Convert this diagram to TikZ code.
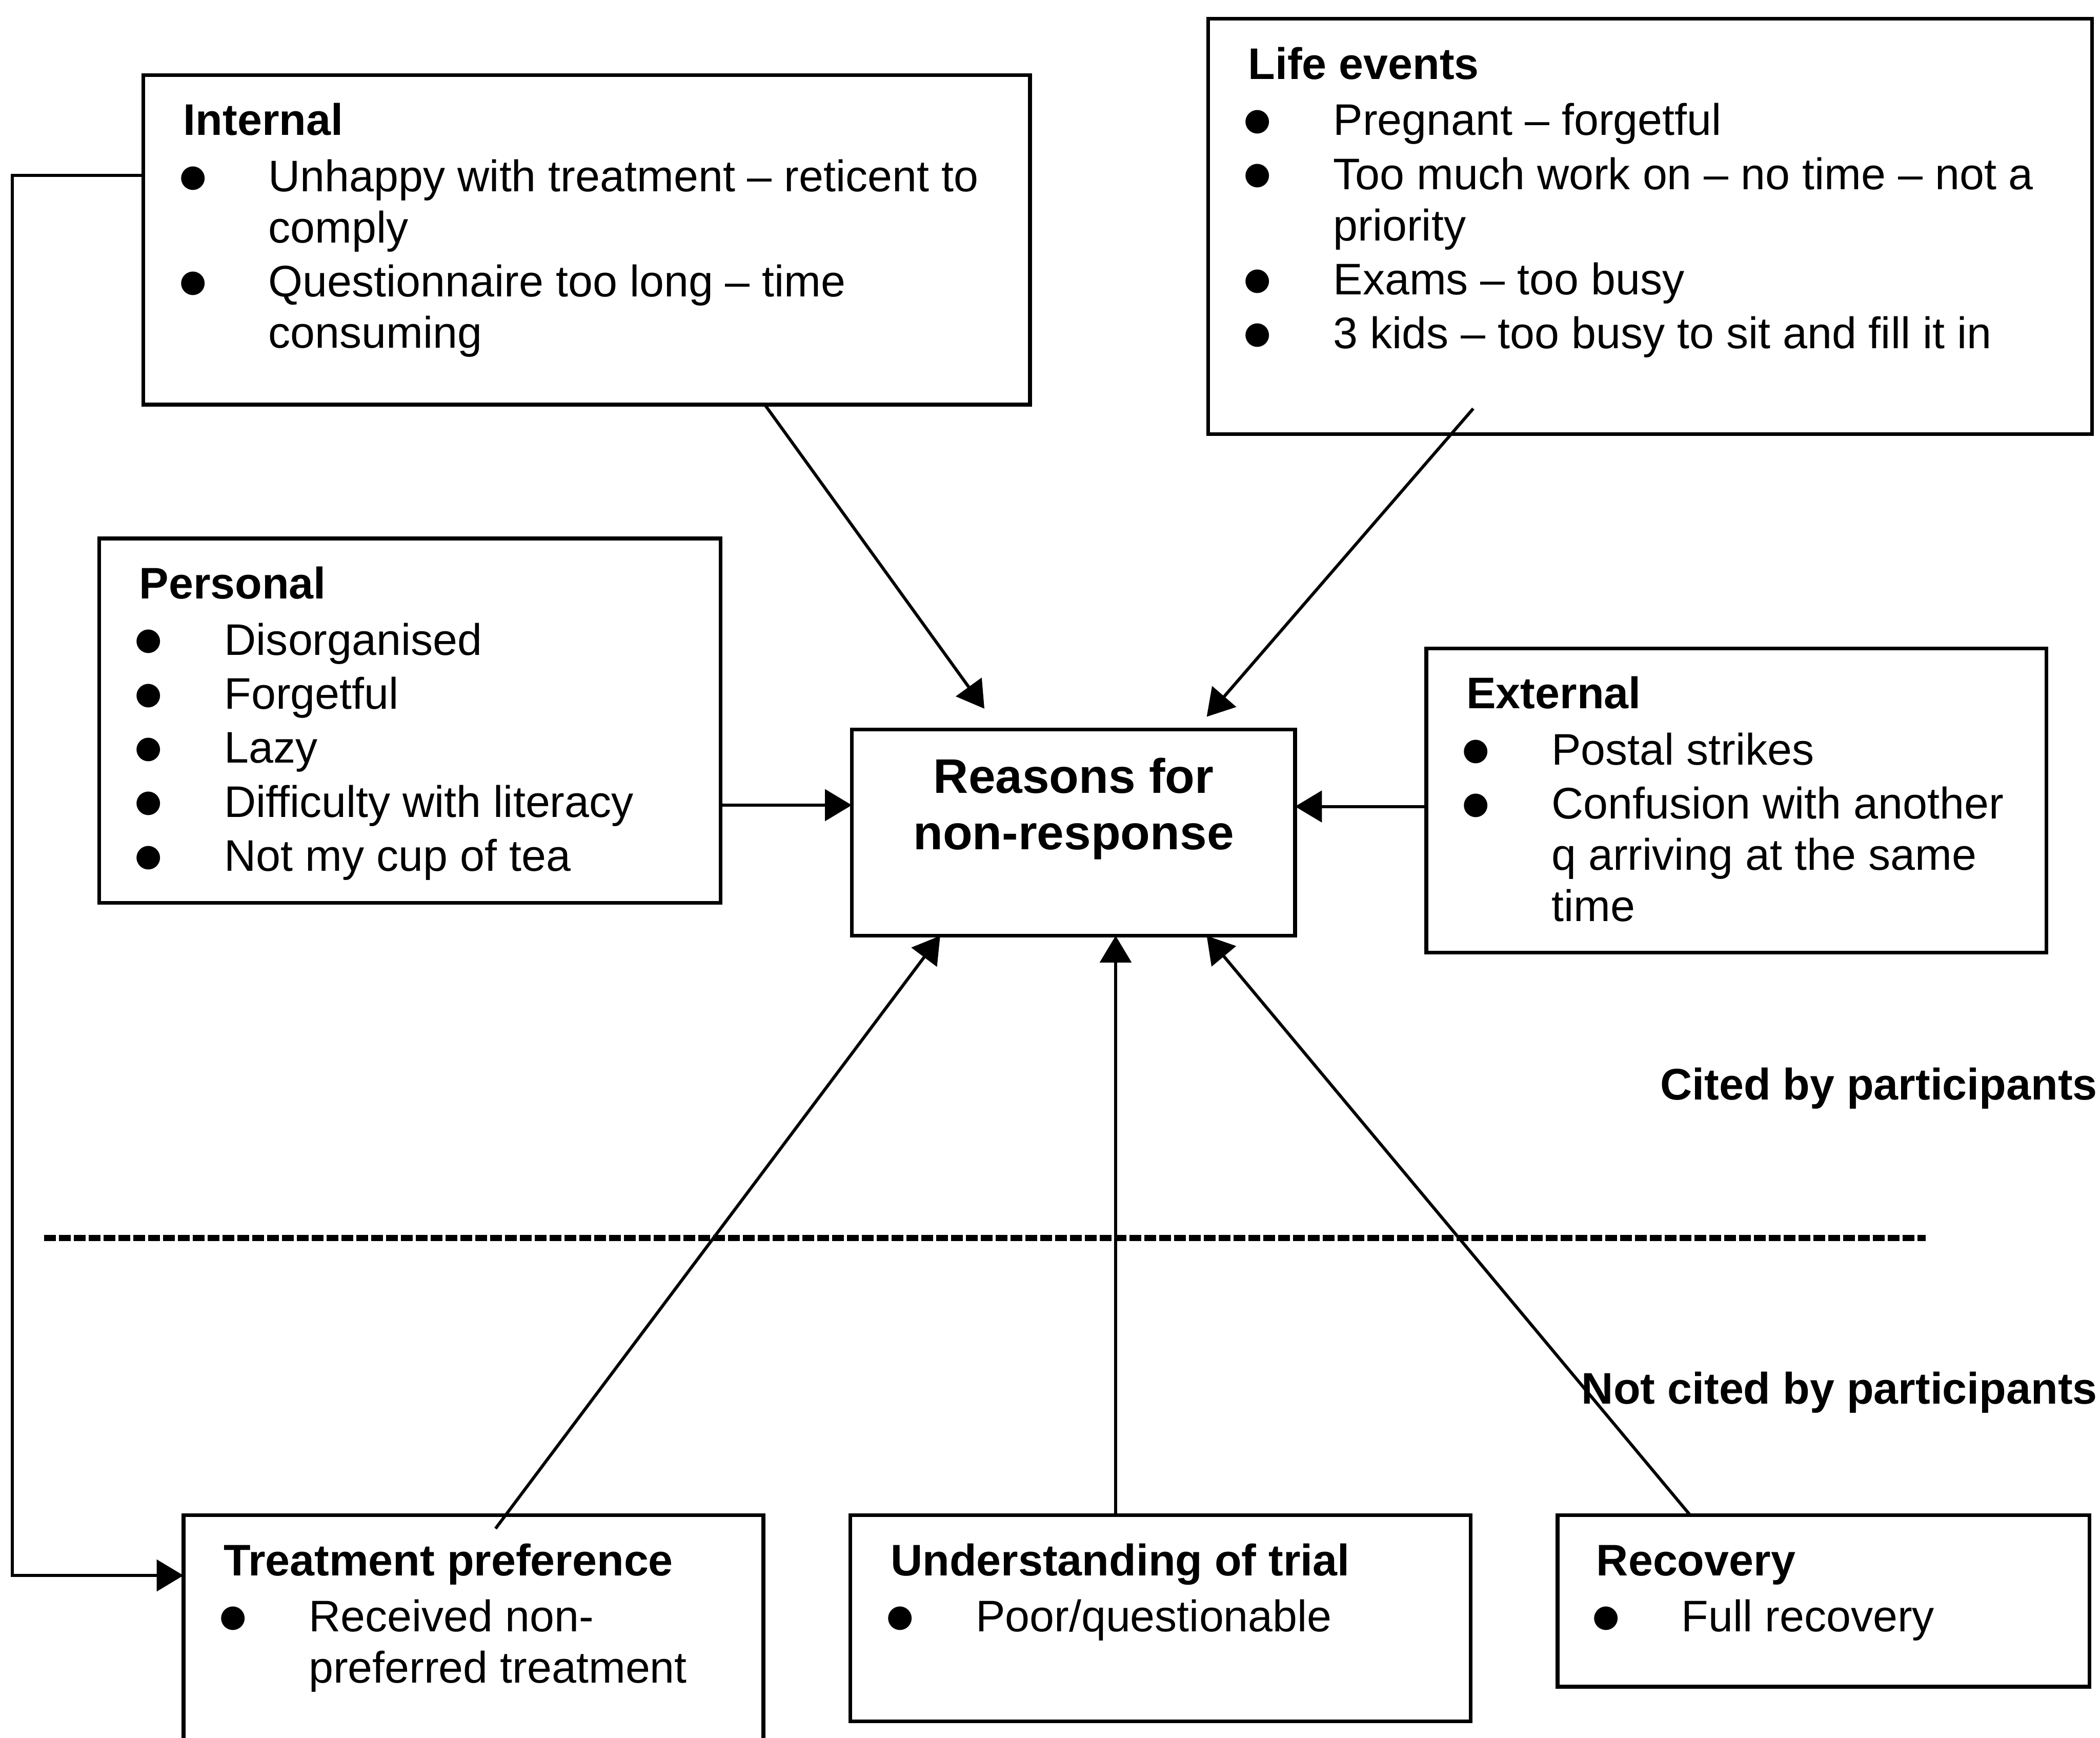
\documentclass[tikz,border=0pt]{standalone}
\usepackage{fontspec}
\setmainfont{Liberation Sans}[Ligatures=NoCommon]
\newfontfamily\bulfont{DejaVu Sans}
\usepackage{graphicx}
\usetikzlibrary{arrows.meta,calc}

\newcommand\bodyfont{\fontsize{16.5pt}{19.15pt}\selectfont}
\newcommand\bul{\makebox[31.75pt][l]{\hspace*{-1.5pt}\raisebox{2pt}{\bulfont\fontsize{11.5pt}{11.5pt}\selectfont ●}}}
\newcommand\Ttl[1]{\hbox{\bfseries #1}\vskip0.85pt}
\newcommand\Itm[1]{\vskip1pt\hbox{\bul #1}}
\newcommand\Cnt[1]{\hbox{\hspace*{31.75pt}#1}}
\newcommand\Blk[1]{\vtop{\bodyfont\baselineskip=19.15pt\lineskiplimit=-20pt #1}}
\newcommand\CenterText{\vtop{\fontsize{18.1pt}{21pt}\selectfont\bfseries\baselineskip=21pt\halign{\hfil##\hfil\cr Reasons for\cr non-response\cr}}}

\tikzset{
  box/.style={draw, line width=1.4pt, rectangle, inner sep=0pt, outer sep=0pt, anchor=north west},
  txt/.style={inner sep=0pt, outer sep=0pt, anchor=base west},
  arr/.style={line width=1.15pt, -{Triangle[length=10pt,width=11.7pt]}},
  dashline/.style={line width=2.3pt, dash pattern=on 4.4pt off 1.15pt},
  side/.style={inner sep=0pt, outer sep=0pt, anchor=base east, font=\bodyfont\bfseries}
}

\begin{document}
\begin{tikzpicture}[x=0.5pt, y=-0.5pt]
\useasboundingbox (0,0) rectangle (1568,1297);
\clip (0,0) rectangle (1568,1297);

% boxes
\node[box, minimum width=331pt, minimum height=123pt] (internal) at (107,56) {};
\node[box, minimum width=330pt, minimum height=155pt] (life) at (902,14) {};
\node[box, minimum width=232pt, minimum height=136pt] (personal) at (74,402) {};
\node[box, minimum width=165.5pt, minimum height=77pt] (center) at (636,544.5) {};
\node[box, minimum width=231.5pt, minimum height=113.5pt] (external) at (1065,484) {};
\node[box, minimum width=216.5pt, minimum height=94.5pt] (treat) at (137,1131) {};
\node[box, minimum width=231.5pt, minimum height=77pt] (underst) at (635,1131) {};
\node[box, minimum width=198.5pt, minimum height=64pt] (recovery) at (1163,1131) {};

% texts
\node[txt] (internalT) at ($(internal.north west)+(30,45)$) {\Blk{%
  \Ttl{Internal}%
  \Itm{Unhappy with treatment – reticent to}%
  \Cnt{comply}%
  \Itm{Questionnaire too long – time}%
  \Cnt{consuming}}};
\node[txt] (lifeT) at ($(life.north west)+(30,45)$) {\Blk{%
  \Ttl{Life events}%
  \Itm{Pregnant – forgetful}%
  \Itm{Too much work on – no time – not a}%
  \Cnt{priority}%
  \Itm{Exams – too busy}%
  \Itm{3 kids – too busy to sit and fill it in}}};
\node[txt] (personalT) at ($(personal.north west)+(30,45)$) {\Blk{%
  \Ttl{Personal}%
  \Itm{Disorganised}%
  \Itm{Forgetful}%
  \Itm{Lazy}%
  \Itm{Difficulty with literacy}%
  \Itm{Not my cup of tea}}};
\node[txt] (externalT) at ($(external.north west)+(30,45)$) {\Blk{%
  \Ttl{External}%
  \Itm{Postal strikes}%
  \Itm{Confusion with another}%
  \Cnt{q arriving at the same}%
  \Cnt{time}}};
\node[txt] (treatT) at ($(treat.north west)+(30,45)$) {\Blk{%
  \Ttl{Treatment preference}%
  \Itm{Received non-}%
  \Cnt{preferred treatment}}};
\node[txt] (understT) at ($(underst.north west)+(30,45)$) {\Blk{%
  \Ttl{Understanding of trial}%
  \Itm{Poor/questionable}}};
\node[txt] (recoveryT) at ($(recovery.north west)+(29,45)$) {\Blk{%
  \Ttl{Recovery}%
  \Itm{Full recovery}}};
\node[inner sep=0pt, outer sep=0pt, anchor=base] (centerT) at (801.6,592) {\CenterText};

\node[side] (cited) at (1566,821) {Cited by participants};
\node[side] (notcited) at (1566,1048) {Not cited by participants};

% separator
\draw[dashline] (33,924) -- (1438,924);

% connectors
\coordinate (iA) at (571,0 |- internal.south);
\coordinate (iB) at (735,529);
\draw[arr] (iA) -- (iB);
\coordinate (lA) at (1100,305);
\coordinate (lB) at (901,535);
\draw[arr] (lA) -- (lB);
\draw[arr] (personal.east |- 0,601) -- (center.west |- 0,601);
\draw[arr] (external.west |- 0,602) -- (center.east |- 0,602);
\coordinate (tA) at (370,1141);
\draw[arr] (tA) -- (702,0 |- center.south);
\draw[arr] (833,0 |- underst.north) -- (833,0 |- center.south);
\draw[arr] (1262,0 |- recovery.north) -- (901,0 |- center.south);
\coordinate (loop1) at (9,131);
\coordinate (loop2) at (9,1176);
\draw[arr] (internal.west |- loop1) -- (loop1) -- (loop2) -- (treat.west |- loop2);
\end{tikzpicture}
\end{document}
